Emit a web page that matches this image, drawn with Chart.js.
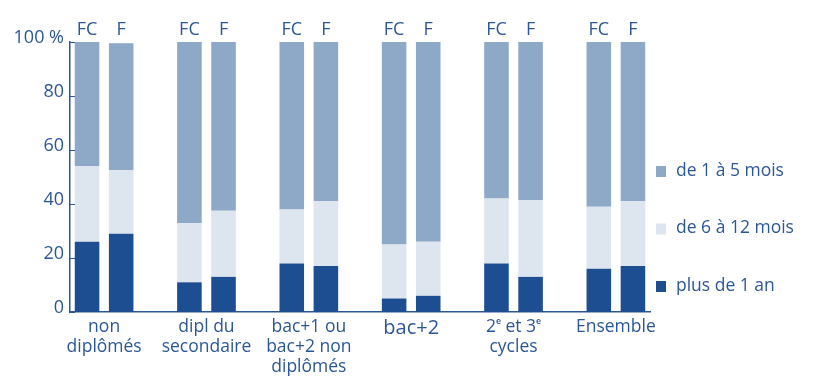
<!DOCTYPE html>
<html lang="fr">
<head>
<meta charset="utf-8">
<title>Durée de recherche d'emploi</title>
<script src="https://cdn.jsdelivr.net/npm/chart.js@4/dist/chart.umd.min.js"></script>
<style>
  html, body { margin: 0; padding: 0; background: #ffffff; }
  #wrap { width: 816px; height: 376px; position: relative; }
</style>
</head>
<body>
<div id="wrap"><canvas id="chart" width="816" height="376"></canvas></div>
<script>
// Diploma groups (x axis, bottom) and the two bars of each group (top labels)
const groups = [
  ['non', 'diplômés'],
  ['dipl du', 'secondaire'],
  ['bac+1 ou', 'bac+2 non', 'diplômés'],
  ['bac+2'],
  ['2ᵉ et 3ᵉ', 'cycles'],
  ['Ensemble']
];
const barLabels = ['FC', 'F'];

// Shares in % for each bar, in order FC, F for every group
const plusUnAn   = [26, 29, 11, 13, 18, 17, 5, 6, 18, 13, 16, 17];
const sixDouze   = [28, 23.5, 22, 24.5, 20, 24, 20, 20, 24, 28.5, 23, 24];
const unCinq     = [46, 47, 67, 62.5, 62, 59, 75, 74, 58, 58.5, 61, 59];

const yTicks = [0, 20, 40, 60, 80, 100];

const INK = '#2c5797';
const FONT = '"Open Sans", Lato, "DejaVu Sans", sans-serif';

// Slots on the top axis: FC, F, then an empty spacer between groups
const slotLabels = [];
groups.forEach((g, i) => {
  barLabels.forEach(b => slotLabels.push(b));
  if (i < groups.length - 1) slotLabels.push('');
});
function toSlots(values) {
  const out = [];
  groups.forEach((g, i) => {
    barLabels.forEach((b, j) => out.push(values[i * barLabels.length + j]));
    if (i < groups.length - 1) out.push(null);
  });
  return out;
}

// Short tick marks drawn inside the plot, on the left axis
const innerTicks = {
  id: 'innerTicks',
  afterDatasetsDraw(chart) {
    const y = chart.scales.y;
    const ctx = chart.ctx;
    ctx.save();
    ctx.strokeStyle = INK;
    ctx.lineWidth = 1;
    yTicks.forEach(v => {
      const py = Math.round(y.getPixelForValue(v)) + 0.5;
      ctx.beginPath();
      ctx.moveTo(y.right, py);
      ctx.lineTo(y.right + 5, py);
      ctx.stroke();
    });
    ctx.restore();
  }
};

// Legend on the right, top item first
const sideLegend = {
  id: 'sideLegend',
  afterDraw(chart) {
    const ctx = chart.ctx;
    const area = chart.chartArea;
    const items = chart.data.datasets.slice().reverse();
    ctx.save();
    ctx.font = '17.5px ' + FONT;
    ctx.textBaseline = 'middle';
    items.forEach((ds, k) => {
      const cy = 171 + k * 57.5;
      const x0 = area.right + 6;
      ctx.fillStyle = ds.backgroundColor;
      ctx.fillRect(x0, cy - 5, 10, 11);
      ctx.fillStyle = INK;
      ctx.fillText(ds.label, x0 + 20, cy);
    });
    ctx.restore();
  }
};

new Chart(document.getElementById('chart'), {
  type: 'bar',
  data: {
    labels: slotLabels,
    datasets: [
      { label: 'plus de 1 an',    data: toSlots(plusUnAn), backgroundColor: '#1d4e91', xAxisID: 'x' },
      { label: 'de 6 à 12 mois',  data: toSlots(sixDouze), backgroundColor: '#dde5ef', xAxisID: 'x' },
      { label: 'de 1 à 5 mois',   data: toSlots(unCinq),   backgroundColor: '#8ea8c8', xAxisID: 'x' }
    ]
  },
  options: {
    responsive: false,
    animation: false,
    devicePixelRatio: 1,
    layout: { padding: { left: 0, right: 166, top: 0, bottom: 0 } },
    datasets: { bar: { categoryPercentage: 0.72, barPercentage: 1, borderWidth: 0 } },
    plugins: { legend: { display: false }, tooltip: { enabled: false } },
    scales: {
      x: {
        type: 'category',
        position: 'top',
        stacked: true,
        grid: { display: false, drawTicks: false },
        border: { display: false },
        ticks: { color: INK, font: { family: FONT, size: 18 }, padding: 1, maxRotation: 0, autoSkip: false },
        afterFit(s) { s.height = 42; }
      },
      xg: {
        type: 'linear',
        position: 'bottom',
        offset: false,
        bounds: 'data',
        min: -0.5,
        max: slotLabels.length - 0.5,
        grid: { display: false, drawTicks: false, offset: false },
        border: { display: true, color: INK, width: 1.5 },
        afterBuildTicks(s) {
          s.ticks = groups.map((g, i) => ({ value: i * (barLabels.length + 1) + 0.5 }));
        },
        ticks: {
          color: INK,
          font(ctx) {
            const big = groups[ctx.index] && groups[ctx.index].length === 1 && groups[ctx.index][0] === 'bac+2';
            return { family: FONT, size: big ? 20 : 17.5, lineHeight: 1.15 };
          },
          padding: 5,
          maxRotation: 0,
          autoSkip: false,
          callback(v) {
            const i = Math.round((v - 0.5) / (barLabels.length + 1));
            return groups[i];
          }
        },
        afterFit(s) { s.height = 64; }
      },
      y: {
        stacked: true,
        min: 0,
        max: 100,
        afterBuildTicks(s) { s.ticks = yTicks.map(v => ({ value: v })); },
        grid: { display: false, drawTicks: false },
        border: { display: true, color: INK, width: 1.5 },
        ticks: {
          color: INK,
          font: { family: FONT, size: 18 },
          padding: 6,
          labelOffset: -4,
          callback(v) { return v === 100 ? '100 %' : String(v); }
        },
        afterFit(s) { s.width = 70; }
      }
    }
  },
  plugins: [innerTicks, sideLegend]
});
</script>
</body>
</html>
